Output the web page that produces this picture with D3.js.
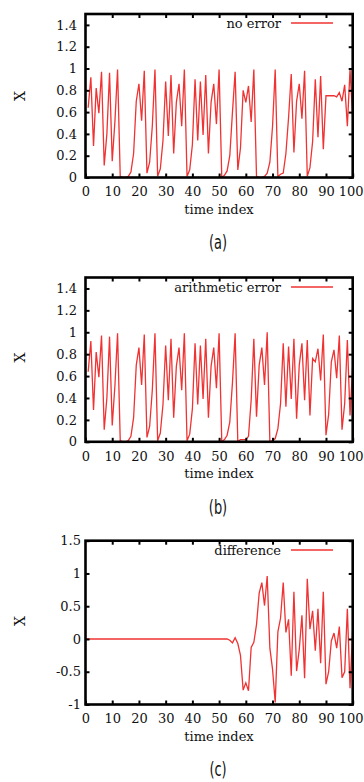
<!DOCTYPE html>
<html><head><meta charset="utf-8">
<script src="https://cdn.jsdelivr.net/npm/d3@7"></script>
<style>
html,body{margin:0;padding:0;background:#fff;}
svg{display:block;}
text{font-family:"DejaVu Serif",serif;fill:#111;}
.cap{font-family:"DejaVu Sans Condensed","DejaVu Sans",sans-serif;font-weight:300;}
</style></head>
<body>
<script>
// ---- data ----
const timeAB = [1,2,3,4,5,6,7,8,9,10,11,12,13,14,15,16,17,18,19,20,21,22,23,24,25,26,27,28,29,30,31,32,33,34,35,36,37,38,39,40,41,42,43,44,45,46,47,48,49,50,51,52,53,54,55,56,57,58,59,60,61,62,63,64,65,66,67,68,69,70,71,72,73,74,75,76,77,78,79,80,81,82,83,84,85,86,87,88,89,90,91,92,93,94,95,96,97,98,99,100];
const noError = [
 0.64,0.92,0.29,0.82,0.59,0.97,0.11,0.40,0.96,0.15,
 0.51,0.99,0.01,0.00,0.00,0.01,0.05,0.22,0.70,0.86,
 0.52,0.98,0.04,0.14,0.47,0.99,0.01,0.08,0.34,0.88,
 0.38,0.94,0.22,0.69,0.86,0.47,0.99,0.01,0.07,0.30,
 0.90,0.34,0.88,0.39,0.94,0.22,0.69,0.86,0.49,0.99,
 0.00,0.02,0.06,0.20,0.60,0.97,0.07,0.27,0.80,0.69,
 0.84,0.51,0.99,0.01,0.00,0.00,0.01,0.04,0.14,0.47,
 0.99,0.01,0.03,0.04,0.22,0.55,0.95,0.23,0.70,0.86,
 0.54,0.98,0.01,0.09,0.33,0.90,0.37,0.93,0.26,0.75,
 0.75,0.75,0.75,0.74,0.78,0.70,0.85,0.47,0.99,0.55];
const arithmeticError = [
 0.64,0.92,0.29,0.82,0.59,0.97,0.11,0.40,0.96,0.15,
 0.51,0.99,0.01,0.00,0.00,0.01,0.05,0.22,0.70,0.86,
 0.52,0.98,0.04,0.14,0.47,0.99,0.01,0.08,0.34,0.88,
 0.38,0.94,0.22,0.69,0.86,0.47,0.99,0.01,0.07,0.30,
 0.90,0.34,0.88,0.39,0.94,0.22,0.69,0.86,0.49,0.99,
 0.00,0.02,0.06,0.18,0.54,0.99,0.00,0.02,0.02,0.02,
 0.05,0.38,0.94,0.23,0.70,0.86,0.52,1.00,0.00,0.01,
 0.03,0.12,0.35,0.90,0.32,0.87,0.39,0.94,0.21,0.70,
 0.90,0.38,0.93,0.24,0.76,0.73,0.85,0.56,0.98,0.06,
 0.25,0.73,0.84,0.58,0.97,0.11,0.35,0.93,0.24,0.70];
const timeC = [0,1,2,3,4,5,6,7,8,9,10,11,12,13,14,15,16,17,18,19,20,21,22,23,24,25,26,27,28,29,30,31,32,33,34,35,36,37,38,39,40,41,42,43,44,45,46,47,48,49,50,51,52,53,54,55,56,57,58,59,60,61,62,63,64,65,66,67,68,69,70,71,72,73,74,75,76,77,78,79,80,81,82,83,84,85,86,87,88,89,90,91,92,93,94,95,96,97,98,99,100];
const difference = [0,
 0,0,0,0,0,0,0,0,0,0,
 0,0,0,0,0,0,0,0,0,0,
 0,0,0,0,0,0,0,0,0,0,
 0,0,0,0,0,0,0,0,0,0,
 0,0,0,0,0,0,0,0,0,0,
 0,0,0,-0.02,-0.06,0.02,-0.07,-0.25,-0.78,-0.67,
 -0.79,-0.13,-0.05,0.22,0.70,0.86,0.51,0.96,-0.14,-0.46,
 -0.97,0.11,0.32,0.86,0.10,0.30,-0.56,0.72,-0.49,-0.16,
 0.36,-0.60,0.92,0.15,0.43,-0.18,0.46,-0.37,0.72,-0.69,
 -0.50,-0.03,0.09,-0.14,0.19,-0.59,-0.50,0.46,-0.75,0.15];
const xTicks = [0,10,20,30,40,50,60,70,80,90,100];
const yTicksAB = [0,0.2,0.4,0.6,0.8,1,1.2,1.4];
const yTicksC = [-1,-0.5,0,0.5,1,1.5];
const legendLabels = ["no error","arithmetic error","difference"];
const captions = ["(a)","(b)","(c)"];

const W = 364, H = 782;
const RED = "#f03232";
const svg = d3.select("body").append("svg").attr("width", W).attr("height", H);
svg.append("rect").attr("width", W).attr("height", H).attr("fill", "#fff");

const panels = [
 {top:14, bottom:177.5, dom:[0,1.5], ticks:yTicksAB, xs:timeAB, ys:noError, leg:legendLabels[0], legY:23, xlabY:96, lblGap:8.5, cap:captions[0], capY:242, xl:214},
 {top:277.5, bottom:441.8, dom:[0,1.5], ticks:yTicksAB, xs:timeAB, ys:arithmeticError, leg:legendLabels[1], legY:287, xlabY:357.5, lblGap:8.5, cap:captions[1], capY:507, xl:478},
 {top:540.7, bottom:704.5, dom:[-1,1.5], ticks:yTicksC, xs:timeC, ys:difference, leg:legendLabels[2], legY:550, xlabY:621, lblGap:4.5, cap:captions[2], capY:768.5, xl:741}
];
const L = 85.5, R = 352.7;

panels.forEach((p,i) => {
  const x = d3.scaleLinear().domain([0,100]).range([L,R]);
  const y = d3.scaleLinear().domain(p.dom).range([p.bottom,p.top]);
  const g = svg.append("g");
  const fmt = d => String(d);

  const cid = "clip"+i;
  svg.append("clipPath").attr("id",cid).append("rect")
    .attr("x",L).attr("y",p.top).attr("width",R-L).attr("height",p.bottom-p.top);

  const line = d3.line().x(d=>x(d[0])).y(d=>y(d[1]));
  g.append("path").datum(p.xs.map((t,k)=>[t,p.ys[k]]))
    .attr("clip-path","url(#"+cid+")")
    .attr("d",line).attr("fill","none").attr("stroke",RED)
    .attr("stroke-width",1.3).attr("stroke-linejoin","miter");

  const ax = (sel) => { sel.select(".domain").remove();
    sel.selectAll(".tick line").attr("stroke","#000").attr("stroke-width",2);
    sel.selectAll("text").attr("font-family","DejaVu Serif").attr("font-size",13).attr("fill","#111"); };
  const bx = g.append("g").attr("transform",`translate(0,${p.bottom})`)
    .call(d3.axisBottom(x).tickValues(xTicks).tickSize(-4).tickPadding(9.5).tickFormat(fmt)).call(ax);
  bx.selectAll(".tick text").filter(d => d === 100).attr("text-anchor","end").attr("x", W - 1 - x(100));
  g.append("g").attr("transform",`translate(0,${p.top})`)
    .call(d3.axisTop(x).tickValues(xTicks.slice(1,-1)).tickSize(-4).tickFormat("")).call(ax);
  g.append("g").attr("transform",`translate(${L},0)`)
    .call(d3.axisLeft(y).tickValues(p.ticks).tickSize(-4).tickPadding(p.lblGap).tickFormat(fmt)).call(ax);
  g.append("g").attr("transform",`translate(${R},0)`)
    .call(d3.axisRight(y).tickValues(p.ticks).tickSize(-4).tickFormat("")).call(ax);

  g.append("rect").attr("x",L).attr("y",p.top).attr("width",R-L).attr("height",p.bottom-p.top)
    .attr("fill","none").attr("stroke","#000").attr("stroke-width",2.6);

  g.append("text").attr("x",281).attr("y",p.legY).attr("dy","0.35em")
    .attr("text-anchor","end").attr("font-size",13).text(p.leg);
  g.append("line").attr("x1",291).attr("x2",333).attr("y1",p.legY).attr("y2",p.legY)
    .attr("stroke",RED).attr("stroke-width",1.6);

  g.append("text").attr("x",219).attr("y",p.xl).attr("text-anchor","middle")
    .attr("font-size",13).text("time index");
  g.append("text").attr("transform",`translate(20,${p.xlabY}) rotate(-90)`)
    .attr("text-anchor","middle").attr("dy","0.35em").attr("font-size",14).text("X");

  g.append("text").attr("class","cap")
    .attr("transform",`translate(218,${p.capY}) scale(0.72,1)`)
    .attr("dy","0.35em").attr("text-anchor","middle").attr("font-size",20).text(p.cap);
});
</script>
</body></html>
